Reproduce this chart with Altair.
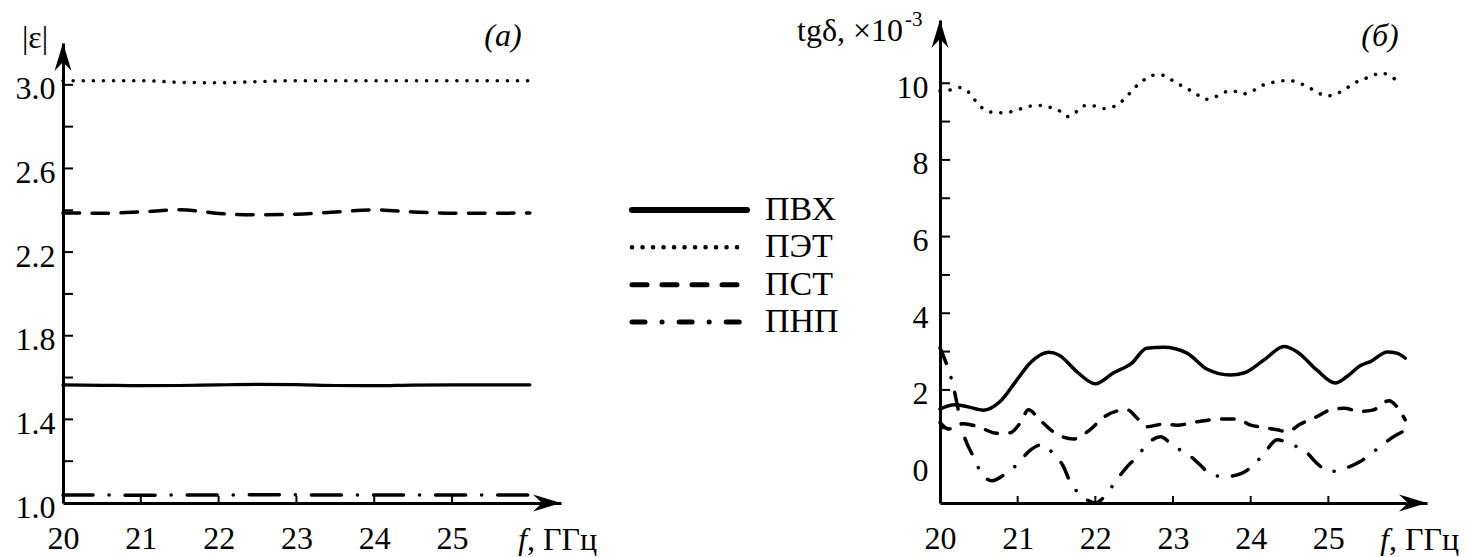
import altair as alt
import pandas as pd

# ---------------- data ----------------
series_names = ["ПВХ", "ПЭТ", "ПСТ", "ПНП"]
legend_rows = [0, 1, 2, 3]

# panel (а): |ε| vs f
f_eps = [20.0, 20.5, 21.0, 21.5, 22.0, 22.5, 23.0, 23.5, 24.0, 24.5, 25.0, 25.5, 26.0]
eps_pvh = [1.565, 1.563, 1.561, 1.562, 1.565, 1.567, 1.566, 1.562, 1.561, 1.564, 1.565, 1.565, 1.565]
eps_pet = [3.02, 3.02, 3.02, 3.012, 3.01, 3.015, 3.02, 3.02, 3.02, 3.02, 3.02, 3.02, 3.02]
eps_pst = [2.387, 2.386, 2.392, 2.403, 2.385, 2.378, 2.381, 2.392, 2.402, 2.392, 2.386, 2.386, 2.387]
eps_pnp = [1.038, 1.038, 1.037, 1.038, 1.038, 1.040, 1.039, 1.038, 1.038, 1.038, 1.038, 1.038, 1.038]

eps_x_domain = [20, 26.4]
eps_y_domain = [1.0, 3.2]
eps_x_labels = [20, 21, 22, 23, 24, 25]
eps_x_ticks = [21, 22, 23, 24, 25]
eps_y_labels = [1.0, 1.4, 1.8, 2.2, 2.6, 3.0]
eps_y_ticks = [1.2, 1.4, 1.6, 1.8, 2.0, 2.2, 2.4, 2.6, 2.8, 3.0]

# panel (б): tgδ ×10^-3 vs f
f_tan_pvh = [20.0, 20.19, 20.34, 20.56, 20.77, 20.99, 21.16, 21.40, 21.53, 21.76,
             22.0, 22.23, 22.47, 22.66, 22.88, 23.18, 23.44, 23.74, 23.91, 24.17,
             24.43, 24.60, 24.85, 25.09, 25.24, 25.41, 25.54, 25.76, 25.88, 25.99]
tan_pvh = [1.50, 1.61, 1.57, 1.47, 1.69, 2.26, 2.70, 2.98, 2.91, 2.48,
           2.16, 2.44, 2.70, 3.09, 3.11, 2.96, 2.54, 2.39, 2.44, 2.78,
           3.13, 2.99, 2.52, 2.18, 2.35, 2.63, 2.74, 2.99, 2.96, 2.83]

f_tan_pet = [20.0, 20.12, 20.25, 20.36, 20.44, 20.53, 20.65, 20.78, 20.9, 21.02,
             21.15, 21.28, 21.4, 21.53, 21.64, 21.74, 21.84, 21.97, 22.09, 22.22,
             22.33, 22.43, 22.51, 22.61, 22.72, 22.84, 22.96, 23.07, 23.19, 23.30,
             23.41, 23.53, 23.65, 23.77, 23.89, 24.01, 24.13, 24.25, 24.37, 24.5,
             24.63, 24.75, 24.86, 24.98, 25.10, 25.22, 25.33, 25.45, 25.57, 25.69,
             25.81, 25.93]
tan_pet = [9.8, 9.82, 9.89, 9.78, 9.58, 9.38, 9.25, 9.23, 9.25, 9.32,
           9.40, 9.42, 9.38, 9.29, 9.13, 9.23, 9.41, 9.41, 9.34, 9.38,
           9.51, 9.71, 9.89, 10.06, 10.2, 10.22, 10.11, 9.98, 9.85, 9.72,
           9.58, 9.63, 9.76, 9.80, 9.72, 9.78, 9.93, 10.0, 10.06, 10.07,
           10.0, 9.89, 9.76, 9.67, 9.72, 9.85, 10.0, 10.1, 10.2, 10.27,
           10.16, 10.03]

f_tan_pst = [20.0, 20.11, 20.30, 20.49, 20.73, 20.90, 21.03, 21.14, 21.28, 21.45,
             21.72, 21.93, 22.11, 22.28, 22.41, 22.54, 22.66, 22.88, 23.05, 23.31,
             23.61, 23.83, 24.0, 24.13, 24.34, 24.47, 24.64, 24.85, 25.03, 25.20,
             25.41, 25.58, 25.78, 25.88, 25.99]
tan_pst = [1.15, 0.98, 1.12, 1.04, 0.87, 0.88, 1.13, 1.48, 1.23, 0.92,
           0.72, 0.96, 1.29, 1.45, 1.48, 1.26, 1.04, 1.11, 1.08, 1.17,
           1.24, 1.24, 1.08, 1.03, 0.96, 0.91, 1.11, 1.30, 1.48, 1.52,
           1.44, 1.48, 1.72, 1.57, 1.22]

f_tan_pnp = [20.0, 20.15, 20.32, 20.43, 20.51, 20.67, 20.84, 21.01, 21.14, 21.31,
             21.47, 21.59, 21.68, 21.80, 22.0, 22.13, 22.26, 22.41, 22.54, 22.66,
             22.84, 23.01, 23.19, 23.35, 23.50, 23.67, 23.89, 24.06, 24.19, 24.34,
             24.53, 24.72, 24.85, 25.03, 25.22, 25.41, 25.56, 25.72, 25.88, 26.01]
tan_pnp = [3.1, 2.26, 0.74, 0.26, -0.09, -0.37, -0.19, 0.09, 0.39, 0.57,
           0.31, 0.0, -0.43, -0.71, -0.95, -0.75, -0.39, 0.0, 0.26, 0.57,
           0.78, 0.52, 0.33, 0.04, -0.22, -0.26, -0.17, 0.09, 0.39, 0.70,
           0.57, 0.37, 0.09, -0.13, -0.04, 0.13, 0.35, 0.61, 0.83, 0.96]

tan_x_domain = [20, 26.27]
tan_y_domain = [-0.95, 11.65]
tan_x_labels = [20, 21, 22, 23, 24, 25]
tan_x_ticks = [21, 22, 23, 24, 25]
tan_y_labels = [0, 2, 4, 6, 8, 10]
tan_y_ticks = [1, 2, 3, 4, 5, 6, 7, 8, 9, 10]

# ---------------- styling ----------------
SERIF = "Liberation Serif"
ARROW_R = "M0,0 L-2.8,-0.85 L-1.9,0 L-2.8,0.85 Z"
ARROW_U = "M0,0 L-0.85,2.8 L0,1.9 L0.85,2.8 Z"

xL = alt.Scale(domain=eps_x_domain, range=[55, 553], nice=False, zero=False)
yL = alt.Scale(domain=eps_y_domain, range=[495, 35], nice=False, zero=False)
xR = alt.Scale(domain=tan_x_domain, range=[932, 1419], nice=False, zero=False)
yR = alt.Scale(domain=tan_y_domain, range=[495, 12], nice=False, zero=False)
xLeg = alt.Scale(domain=[0, 1], range=[624, 739], nice=False, zero=False)
yLeg = alt.Scale(domain=[0, 3], range=[202, 314], nice=False, zero=False)

AX_COMMON = dict(title=None, ticks=False, tickSize=0, grid=False, domain=True,
                 domainColor="black", domainWidth=3, labelFont=SERIF,
                 labelFontSize=32, labelColor="black")


def curve(fx, vals, xs, ys, dash=None, width=3.5):
    df = pd.DataFrame({"f": fx, "v": vals})
    kw = dict(color="black", strokeWidth=width, strokeCap="round", interpolate="monotone")
    if dash:
        kw["strokeDash"] = dash
    return alt.Chart(df).mark_line(**kw).encode(
        x=alt.X("f:Q", scale=xs, axis=None),
        y=alt.Y("v:Q", scale=ys, axis=None),
    )


def y_axis_layer(x0, yticks, ylabels, xs, ys, offset, pad, fmt):
    df = pd.DataFrame({"f": [x0] * len(yticks), "v": yticks})
    return alt.Chart(df).mark_point(
        shape="M0,0 L2,0", size=100, filled=False, color="black",
        stroke="black", strokeWidth=2, opacity=1
    ).encode(
        x=alt.X("f:Q", scale=xs, axis=None),
        y=alt.Y("v:Q", scale=ys, axis=alt.Axis(
            values=ylabels, orient="left", offset=offset, labelPadding=pad,
            format=fmt, labelOffset=4, **AX_COMMON)),
    )


def x_axis_layer(y0, xticks, xlabels, xs, ys):
    df = pd.DataFrame({"f": xticks, "v": [y0] * len(xticks)})
    return alt.Chart(df).mark_point(
        shape="M0,0 L0,-2", size=49, filled=False, color="black",
        stroke="black", strokeWidth=2, opacity=1
    ).encode(
        x=alt.X("f:Q", scale=xs, axis=alt.Axis(
            values=xlabels, orient="bottom", offset=0, labelPadding=20,
            format="d", labelFlush=False, labelOverlap=False, **AX_COMMON)),
        y=alt.Y("v:Q", scale=ys, axis=None),
    )


def arrows(xdom, ydom, xs, ys):
    r = alt.Chart(pd.DataFrame({"f": [xdom[1]], "v": [ydom[0]]})).mark_point(
        shape=ARROW_R, size=400, filled=True, color="black", opacity=1, strokeWidth=0
    ).encode(x=alt.X("f:Q", scale=xs, axis=None), y=alt.Y("v:Q", scale=ys, axis=None))
    u = alt.Chart(pd.DataFrame({"f": [xdom[0]], "v": [ydom[1]]})).mark_point(
        shape=ARROW_U, size=400, filled=True, color="black", opacity=1, strokeWidth=0
    ).encode(x=alt.X("f:Q", scale=xs, axis=None), y=alt.Y("v:Q", scale=ys, axis=None))
    return [r, u]


def label(text, x, y, size=32, italic=False, align="center"):
    kw = dict(text=text, font=SERIF, fontSize=size, color="black", align=align, baseline="middle")
    if italic:
        kw["fontStyle"] = "italic"
    return alt.Chart(alt.Data(values=[{"t": text}])).mark_text(**kw).encode(
        x=alt.value(x), y=alt.value(y))


layers = []
# ---------------- panel (а) ----------------
layers += [
    y_axis_layer(eps_x_domain[0], eps_y_ticks, eps_y_labels, xL, yL, -55, 8, ".1f"),
    x_axis_layer(eps_y_domain[0], eps_x_ticks, eps_x_labels, xL, yL),
    *arrows(eps_x_domain, eps_y_domain, xL, yL),
    curve(f_eps, eps_pvh, xL, yL, width=3.2),
    curve(f_eps, eps_pet, xL, yL, dash=[0.1, 10], width=3.5),
    curve(f_eps, eps_pst, xL, yL, dash=[16.5, 12.5], width=3.5),
    curve(f_eps, eps_pnp, xL, yL, dash=[30, 16, 0.1, 16], width=3.5),
]

# ---------------- panel (б) ----------------
layers += [
    y_axis_layer(tan_x_domain[0], tan_y_ticks, tan_y_labels, xR, yR, -932, 12, "d"),
    x_axis_layer(tan_y_domain[0], tan_x_ticks, tan_x_labels, xR, yR),
    *arrows(tan_x_domain, tan_y_domain, xR, yR),
    curve(f_tan_pvh, tan_pvh, xR, yR, width=3.5),
    curve(f_tan_pet, tan_pet, xR, yR, dash=[0.1, 10], width=3.5),
    curve(f_tan_pst, tan_pst, xR, yR, dash=[12.5, 12.5], width=3.5),
    curve(f_tan_pnp, tan_pnp, xR, yR, dash=[17, 15, 0.1, 15], width=3.5),
]

# ---------------- legend ----------------
leg_styles = [
    dict(width=6),
    dict(width=4.5, dash=[0.1, 10.4]),
    dict(width=5, dash=[15, 15]),
    dict(width=5, dash=[13, 17, 0.1, 17]),
]
for row, st in zip(legend_rows, leg_styles):
    layers.append(curve([0, 1], [row, row], xLeg, yLeg, dash=st.get("dash"), width=st["width"]))
layers.append(alt.Chart(pd.DataFrame({"u": [1] * 4, "r": legend_rows, "name": series_names})).mark_text(
    font=SERIF, fontSize=34, color="black", align="left", baseline="middle", dx=18
).encode(
    x=alt.X("u:Q", scale=xLeg, axis=None),
    y=alt.Y("r:Q", scale=yLeg, axis=None),
    text="name:N",
))

# ---------------- annotations ----------------
layers += [
    label("|ε|", 27, 30),
    label("(а)", 495, 28, italic=True),
    label("tgδ, ×10", 895, 22.5, align="right"),
    label("-3", 897, 12, size=21, align="left"),
    label("(б)", 1372, 28, italic=True),
    label("f", 510, 532, italic=True, align="left"),
    label(", ГГц", 519, 532, align="left"),
    label("f", 1372, 532, italic=True, align="left"),
    label(", ГГц", 1381, 532, align="left"),
]

chart = alt.layer(*layers).resolve_scale(
    x="independent", y="independent"
).resolve_axis(
    x="independent", y="independent"
).properties(
    width=1454, height=495, padding=0
).configure_view(stroke=None)

chart.save("out.html", embed_options={"renderer": "svg", "actions": False})
